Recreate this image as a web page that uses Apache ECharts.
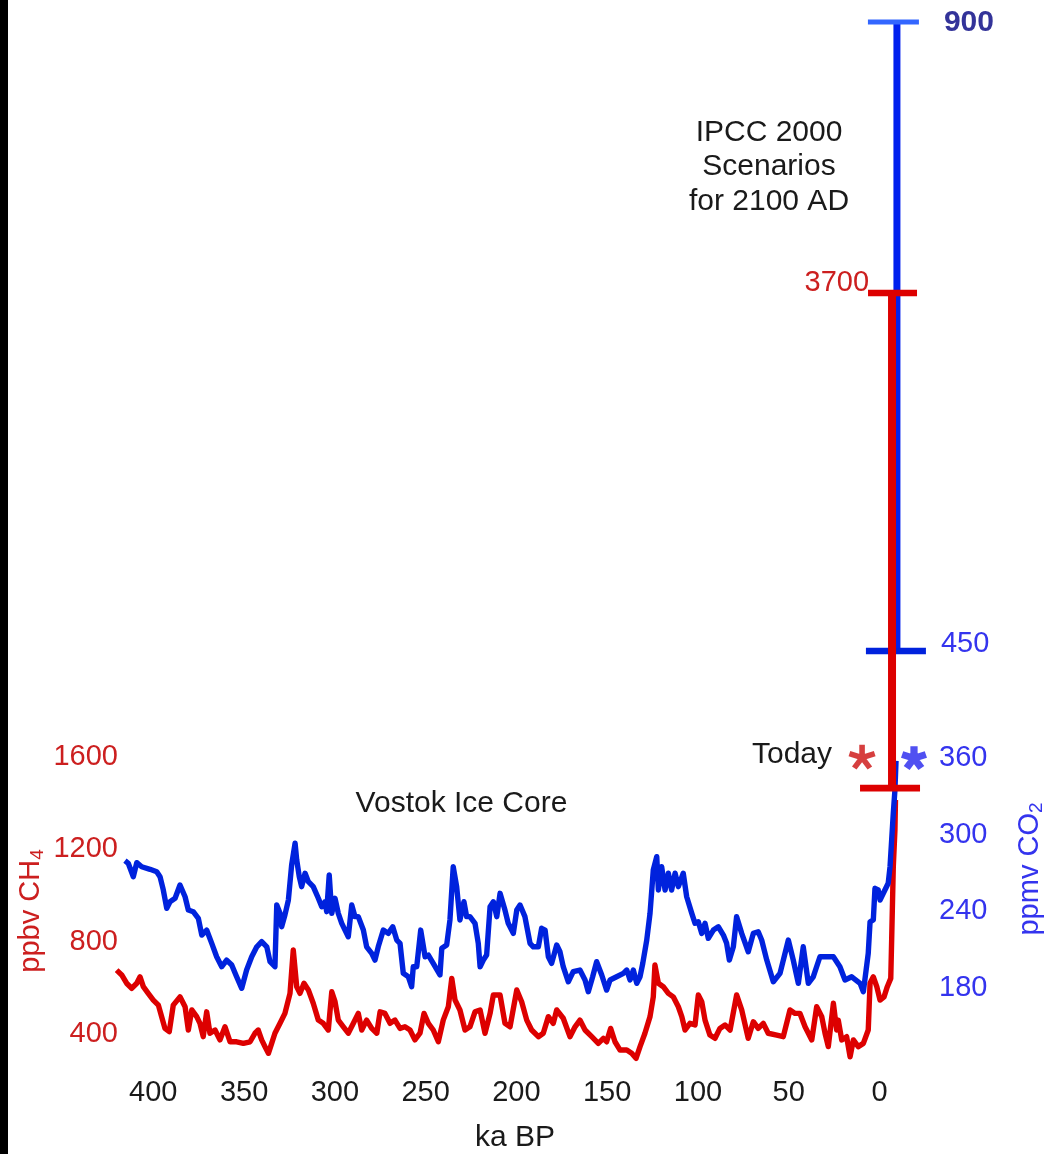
<!DOCTYPE html>
<html>
<head>
<meta charset="utf-8">
<title>Vostok Ice Core CO2 and CH4</title>
<script src="https://cdn.jsdelivr.net/npm/echarts@6/dist/echarts.min.js"></script>
<style>
  html, body { margin: 0; padding: 0; background: #ffffff; }
  #chart { width: 1045px; height: 1154px; }
</style>
</head>
<body>
<div id="chart"></div>
<script>
// ---- Vostok ice core record (age in ka BP) ----
const co2Ka = [415.6,413.8,411.0,409.1,406.4,401.8,398.1,396.3,394.5,392.6,
  390.8,388.0,385.3,382.5,380.7,378.0,375.2,373.3,370.6,367.8,
  365.1,362.3,359.6,356.8,354.1,351.3,348.6,345.8,343.0,340.3,
  337.5,335.7,333.0,332.0,330.2,329.3,327.5,325.6,323.8,321.9,
  321.0,319.6,318.3,316.4,314.6,311.9,309.1,307.2,305.4,304.5,
  303.1,301.7,299.9,298.1,296.2,294.4,292.6,290.7,288.9,287.1,
  284.3,282.5,279.7,277.9,276.1,273.3,270.6,268.1,265.9,264.1,
  262.3,259.5,257.7,256.8,254.9,252.7,250.3,248.5,245.8,242.1,
  241.1,238.4,236.6,234.8,232.9,231.1,228.9,227.4,225.6,222.8,
  221.0,220.0,218.2,216.4,214.5,212.7,210.8,209.0,206.3,204.5,
  201.7,199.8,198.0,195.3,192.5,190.7,187.9,186.1,184.2,182.4,
  180.6,177.8,176.0,174.2,171.4,168.7,165.0,162.2,160.4,158.0,
  155.8,153.0,150.3,148.4,144.8,141.1,139.2,137.4,135.6,133.7,
  131.9,130.4,128.2,126.4,124.6,122.7,121.8,120.0,118.1,116.3,
  114.5,112.6,110.8,108.1,106.2,103.4,101.6,99.8,97.9,96.1,
  94.3,91.5,88.8,86.0,84.2,82.7,80.5,78.7,75.9,72.3,
  69.5,66.8,64.9,62.1,58.5,54.8,50.2,47.5,44.7,42.0,
  39.2,36.5,32.8,25.4,21.8,19.0,15.3,10.7,8.9,6.2,
  5.2,3.4,2.5,0.7,-0.3,-2.1,-4.8,-5.8,-6.7,-7.6,-8.5,-9.1];

const co2Ppmv = [279.6,277.6,267.1,278.1,274.9,272.9,271.0,267.1,256.7,242.3,
  247.5,250.2,260.6,251.4,241.0,239.7,234.5,221.4,225.3,214.9,
  204.4,196.6,201.8,197.9,188.7,179.7,194.0,204.4,212.2,216.2,
  212.2,200.5,196.6,244.9,238.4,227.9,237.1,248.8,276.3,293.3,
  280.2,267.1,259.3,269.8,263.2,259.3,250.2,243.6,247.5,239.7,
  268.4,238.4,250.2,238.4,230.6,225.3,220.1,244.9,235.8,235.8,
  225.3,212.2,207.1,201.8,212.2,225.3,222.7,227.9,217.5,214.9,
  191.4,188.7,180.9,196.6,196.6,225.3,204.4,205.7,199.2,190.1,
  211.0,213.6,233.2,274.9,259.3,233.2,247.5,235.8,235.8,230.6,
  214.9,196.6,201.8,205.7,243.6,247.5,235.8,254.1,241.0,230.6,
  222.7,241.0,244.9,235.8,214.9,212.2,212.2,226.7,225.3,204.4,
  199.2,213.6,208.3,196.6,184.8,192.7,194.0,186.2,177.0,188.7,
  200.5,190.1,178.3,186.2,188.7,191.4,194.0,186.2,194.0,183.6,
  188.7,199.2,217.5,238.4,272.4,282.8,256.7,274.9,256.7,269.8,
  256.7,269.8,259.3,269.8,251.4,238.4,230.6,231.8,222.7,230.6,
  218.8,225.3,227.9,221.4,214.9,201.8,212.2,235.8,222.7,208.3,
  222.7,224.0,217.5,201.8,184.8,191.4,217.5,201.8,183.6,212.2,
  183.6,188.7,204.4,204.4,196.6,186.2,188.7,183.6,177.0,207.1,
  231.8,233.2,258.0,256.7,248.8,254.1,262.0,274.9,295.9,316.8,335.0,357.8];

const ch4Ka = [420.2,417.4,414.7,411.9,409.1,407.3,405.5,402.8,400.0,397.2,
  395.4,393.6,391.2,389.0,385.3,382.5,380.7,378.8,376.1,374.3,
  372.5,370.6,368.8,366.0,363.3,360.5,357.7,354.1,350.4,346.7,
  344.0,342.2,340.3,338.5,336.6,334.8,333.0,330.2,327.5,324.7,
  322.9,321.0,319.2,317.0,314.6,311.9,309.1,306.4,303.6,301.7,
  299.9,298.1,295.3,292.6,289.8,287.1,285.2,282.5,279.7,276.9,
  275.1,272.4,269.6,266.9,264.1,261.4,258.6,255.9,253.1,250.9,
  248.5,245.8,243.0,240.3,237.5,235.6,233.8,231.1,228.3,225.6,
  222.8,220.0,217.3,214.5,212.7,209.0,206.3,203.5,199.8,197.1,
  194.3,191.6,187.9,185.2,182.4,179.7,177.8,174.2,170.5,167.7,
  165.0,162.2,158.5,154.9,152.1,150.3,148.1,145.7,142.9,139.2,
  136.5,134.1,131.9,129.2,126.4,124.6,123.7,121.8,119.1,116.3,
  113.6,110.8,108.9,107.1,104.4,101.6,99.8,97.9,96.1,93.4,
  90.6,87.9,85.1,82.3,78.7,75.9,72.3,69.5,66.8,64.0,
  61.3,56.6,53.0,49.3,46.5,43.8,41.0,37.3,34.6,31.8,
  30.0,28.2,25.4,23.6,22.7,20.8,18.1,16.2,14.4,11.7,
  8.9,6.2,5.2,3.4,1.5,-0.3,-2.5,-4.3,-6.2,-6.7,
  -7.6,-8.5,-8.8];

const ch4Ppbv = [676,655,619,597,619,647,604,575,546,524,
  474,423,409,524,560,517,416,503,474,445,
  387,495,402,416,373,430,365,365,358,365,
  402,416,373,344,315,358,402,445,488,575,
  763,604,575,619,590,532,459,445,416,582,
  539,459,430,402,445,488,416,459,423,402,
  495,488,445,459,423,430,416,373,402,488,
  445,416,365,459,517,640,546,503,416,430,
  495,503,402,488,568,568,445,430,590,539,
  459,416,387,402,474,445,503,467,387,430,
  459,416,387,358,380,365,423,365,329,329,
  315,293,344,402,474,560,698,619,604,575,
  560,517,474,416,445,438,568,539,459,394,
  380,423,438,416,568,503,380,452,423,445,
  402,394,387,503,488,488,430,373,517,474,
  402,344,532,416,459,373,387,300,373,344,
  358,416,619,647,604,546,560,604,640,807,
  1125,1284,1414];

// ---- IPCC 2000 scenario ranges for 2100 AD: [position ka, low, high] ----
const scenarioCo2 = [-9.6, 450, 900];
const scenarioCh4 = [-6.9, 1570, 3700];

// ---- present-day values: [position ka, value] ----
const todayCh4 = [9.6, 1600];
const todayCo2 = [-19.0, 360];

// ---- tick labels ----
const ageTicks = [0, 50, 100, 150, 200, 250, 300, 350, 400];
const ch4Ticks = [400, 800, 1200, 1600];
const co2Ticks = [180, 240, 300, 360];

// ---- layout ----
const FONT = "'Liberation Sans', Arial, Helvetica, sans-serif";
const RED = '#dd0000';
const RED_TEXT = '#cc1f1f';
const BLUE = '#0022dd';
const BLUE_TEXT = '#3434ee';
const GRID = { left: 20, right: 1030, top: 10, bottom: 1074 };

// scale extent so that value v1 lands at pixel p1 and v2 at p2
function span(v1, p1, v2, p2, pMin, pMax) {
  const s = (p2 - p1) / (v2 - v1);
  return { min: v1 + (pMin - p1) / s, max: v1 + (pMax - p1) / s };
}
const ageSpan = span(0, 879.5, 400, 153.3, GRID.right, GRID.left);
const ch4Span = span(400, 1033.7, 1600, 757.2, GRID.bottom, GRID.top);
const co2Span = span(180, 987.9, 360, 758.1, GRID.bottom, GRID.top);
const co2ScenarioSpan = span(400, 720.9, 1000, -117.8, GRID.bottom, GRID.top);
const ch4ScenarioSpan = span(2000, 688.1, 4000, 223.3, GRID.bottom, GRID.top);

function zip(a, b) { return a.map((v, i) => [v, b[i]]); }
const plain = v => String(v);

// five-armed asterisk symbol
function asterisk(r, w) {
  let d = '';
  for (let i = 0; i < 5; i++) {
    const a = Math.PI / 2 + i * 2 * Math.PI / 5;
    const dx = Math.cos(a), dy = -Math.sin(a);
    const px = -dy * w, py = dx * w;
    const pts = [[px, py], [dx * r + px, dy * r + py], [dx * r - px, dy * r - py], [-px, -py]];
    d += 'M' + pts.map(p => p[0].toFixed(3) + ' ' + p[1].toFixed(3)).join(' L') + ' Z ';
  }
  return 'path://' + d;
}

// vertical range bar with end caps and value labels
function rangeBar(spec) {
  return function (params, api) {
    const x = api.value(0);
    const lowVal = api.value(1), highVal = api.value(2);
    const lo = api.coord([x, lowVal]);
    const hi = api.coord([x, highVal]);
    const cx = lo[0];
    const children = [
      { type: 'rect', shape: { x: cx - spec.stem / 2, y: hi[1], width: spec.stem, height: lo[1] - hi[1] + spec.stemExtra },
        style: { fill: spec.color } },
      { type: 'rect', shape: { x: cx + spec.lowCap.from, y: lo[1] - spec.lowCap.t / 2, width: spec.lowCap.to - spec.lowCap.from, height: spec.lowCap.t },
        style: { fill: spec.lowCap.color } },
      { type: 'rect', shape: { x: cx + spec.highCap.from, y: hi[1] - spec.highCap.t / 2, width: spec.highCap.to - spec.highCap.from, height: spec.highCap.t },
        style: { fill: spec.highCap.color } }
    ];
    [['low', lo, lowVal], ['high', hi, highVal]].forEach(([key, pt, val]) => {
      const lab = spec.labels[key];
      if (!lab) return;
      children.push({
        type: 'text',
        x: pt[0] + lab.dx, y: pt[1] + lab.dy,
        style: {
          text: String(val), fill: lab.color, fontFamily: FONT, fontSize: lab.size,
          fontWeight: lab.bold ? 'bold' : 'normal', align: lab.align, verticalAlign: 'middle'
        }
      });
    });
    return { type: 'group', children };
  };
}

const chart = echarts.init(document.getElementById('chart'), null, { renderer: 'canvas' });

chart.setOption({
  animation: false,
  backgroundColor: '#ffffff',
  grid: {
    left: GRID.left, top: GRID.top,
    width: GRID.right - GRID.left, height: GRID.bottom - GRID.top,
    containLabel: false, outerBoundsMode: 'none'
  },
  xAxis: {
    type: 'value', inverse: true, min: ageSpan.min, max: ageSpan.max,
    axisLine: { show: false }, axisTick: { show: false }, splitLine: { show: false },
    axisLabel: {
      customValues: ageTicks, formatter: plain, color: '#1a1a1a', fontFamily: FONT, fontSize: 29, margin: 4,
      showMinLabel: true, showMaxLabel: true
    }
  },
  yAxis: [
    { // CH4, Vostok
      type: 'value', position: 'left', offset: -100, min: ch4Span.min, max: ch4Span.max,
      axisLine: { show: false }, axisTick: { show: false }, splitLine: { show: false },
      axisLabel: { customValues: ch4Ticks, formatter: plain, color: RED_TEXT, fontFamily: FONT, fontSize: 29, margin: 2 }
    },
    { // CO2, Vostok
      type: 'value', position: 'right', offset: -93, min: co2Span.min, max: co2Span.max,
      axisLine: { show: false }, axisTick: { show: false }, splitLine: { show: false },
      axisLabel: { customValues: co2Ticks, formatter: plain, color: BLUE_TEXT, fontFamily: FONT, fontSize: 29, margin: 2 }
    },
    { // CO2, scenario range
      type: 'value', show: false, position: 'right', min: co2ScenarioSpan.min, max: co2ScenarioSpan.max,
      splitLine: { show: false }
    },
    { // CH4, scenario range
      type: 'value', show: false, position: 'left', min: ch4ScenarioSpan.min, max: ch4ScenarioSpan.max,
      splitLine: { show: false }
    }
  ],
  series: [
    {
      name: 'CH4', type: 'line', yAxisIndex: 0, data: zip(ch4Ka, ch4Ppbv),
      showSymbol: false, symbol: 'none', z: 2,
      lineStyle: { color: RED, width: 5.4, join: 'round' }
    },
    {
      name: 'CO2', type: 'line', yAxisIndex: 1, data: zip(co2Ka, co2Ppmv),
      showSymbol: false, symbol: 'none', z: 3,
      lineStyle: { color: BLUE, width: 5.4, join: 'round' }
    },
    {
      name: 'CO2 2100', type: 'custom', yAxisIndex: 2, z: 4, clip: false,
      data: [scenarioCo2],
      renderItem: rangeBar({
        color: '#0020ee', stem: 7, stemExtra: 3,
        lowCap: { from: -31, to: 29, t: 6.3, color: BLUE },
        highCap: { from: -29, to: 22, t: 5, color: '#3366ff' },
        labels: {
          low: { dx: 44, dy: -7, color: BLUE_TEXT, size: 29, align: 'left' },
          high: { dx: 47, dy: 0.5, color: '#333399', size: 30, bold: true, align: 'left' }
        }
      })
    },
    {
      name: 'CH4 2100', type: 'custom', yAxisIndex: 3, z: 5, clip: false,
      data: [scenarioCh4],
      renderItem: rangeBar({
        color: RED, stem: 8, stemExtra: 3,
        lowCap: { from: -32, to: 28, t: 6.7, color: RED },
        highCap: { from: -24, to: 25, t: 6.7, color: RED },
        labels: {
          high: { dx: -23, dy: -10, color: RED_TEXT, size: 29, align: 'right' }
        }
      })
    },
    {
      name: 'CH4 today', type: 'scatter', yAxisIndex: 0, z: 6,
      data: [todayCh4], symbol: asterisk(10, 2.1), symbolSize: [27, 26], symbolKeepAspect: true,
      itemStyle: { color: '#cc0f0f' }
    },
    {
      name: 'CO2 today', type: 'scatter', yAxisIndex: 1, z: 6,
      data: [todayCo2], symbol: asterisk(10, 2.9), symbolSize: [26, 25], symbolKeepAspect: true,
      itemStyle: { color: '#2424ee' }
    }
  ],
  graphic: [
    { type: 'rect', z: 100, shape: { x: 0, y: 0, width: 8, height: 1154 }, style: { fill: '#000000' } },
    { type: 'text', x: 769, y: 167, style: {
        text: 'IPCC 2000\nScenarios\nfor 2100 AD', fill: '#1a1a1a', fontFamily: FONT, fontSize: 30,
        lineHeight: 34.5, align: 'center', verticalAlign: 'middle' } },
    { type: 'text', x: 461.5, y: 804, style: {
        text: 'Vostok Ice Core', fill: '#1a1a1a', fontFamily: FONT, fontSize: 30,
        align: 'center', verticalAlign: 'middle' } },
    { type: 'text', x: 832, y: 755, style: {
        text: 'Today', fill: '#1a1a1a', fontFamily: FONT, fontSize: 30,
        align: 'right', verticalAlign: 'middle' } },
    { type: 'text', x: 515, y: 1138, style: {
        text: 'ka BP', fill: '#1a1a1a', fontFamily: FONT, fontSize: 30,
        align: 'center', verticalAlign: 'middle' } },
    { type: 'text', x: 31, y: 911, rotation: Math.PI / 2, style: {
        text: 'ppbv CH{s|4}', fill: RED_TEXT, fontFamily: FONT, fontSize: 29,
        align: 'center', verticalAlign: 'middle',
        rich: { s: { fontFamily: FONT, fontSize: 19, fill: RED_TEXT, padding: [14, 0, 0, 0] } } } },
    { type: 'text', x: 1030, y: 869, rotation: Math.PI / 2, style: {
        text: 'ppmv CO{s|2}', fill: BLUE_TEXT, fontFamily: FONT, fontSize: 29,
        align: 'center', verticalAlign: 'middle',
        rich: { s: { fontFamily: FONT, fontSize: 19, fill: BLUE_TEXT, padding: [14, 0, 0, 0] } } } }
  ]
});
</script>
</body>
</html>
